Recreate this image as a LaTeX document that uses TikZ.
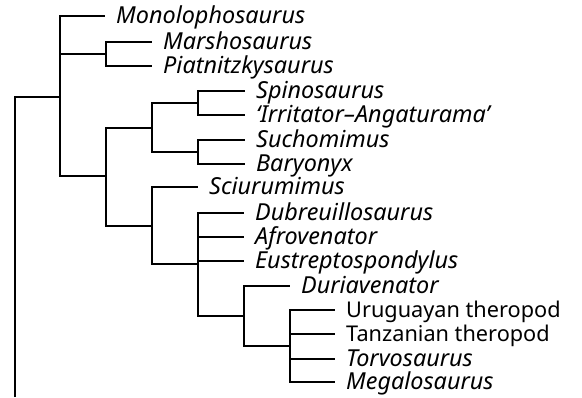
\documentclass[tikz,border=0pt]{standalone}
\usepackage{fontspec}
\setmainfont{Noto Sans}
\begin{document}
\begin{tikzpicture}[x=1pt,y=-1pt,line width=2.4pt,
  leaf/.style={anchor=west,inner xsep=10pt,inner ysep=0pt,text height=15pt,text depth=0pt,font=\fontsize{23.4}{27}\selectfont\itshape},
  leafup/.style={leaf,font=\fontsize{21.7}{26}\selectfont\upshape}]
\useasboundingbox (0,0) rectangle (582,397);
% leaves
\node[leaf] (mono) at (105,16) {Monolophosaurus};
\node[leaf] (mars) at (152,42) {Marshosaurus};
\node[leaf] (piat) at (152,66) {Piatnitzkysaurus};
\node[leaf] (spin) at (245,91) {Spinosaurus};
\node[leaf] (irri) at (245,115) {‘Irritator–Angaturama’};
\node[leaf] (such) at (245,140) {Suchomimus};
\node[leaf] (bary) at (245,164) {Baryonyx};
\node[leaf] (sciu) at (198,187) {Sciurumimus};
\node[leaf] (dubr) at (244,213) {Dubreuillosaurus};
\node[leaf] (afro) at (244,237) {Afrovenator};
\node[leaf] (eust) at (244,261) {Eustreptospondylus};
\node[leaf] (duri) at (290,286) {Duriavenator};
\node[leafup] (urug) at (335,310) {Uruguayan theropod};
\node[leafup] (tanz) at (335,334) {Tanzanian theropod};
\node[leaf] (torv) at (335,359) {Torvosaurus};
\node[leaf] (mega) at (335,382) {Megalosaurus};
% internal branch points
\coordinate (root) at (15,97);
\coordinate (rootend) at (15,397);
\coordinate (n1) at (60,97);
\coordinate (n2) at (106,54);
\coordinate (n3) at (106,176);
\coordinate (n4) at (152,128);
\coordinate (n5) at (198,103);
\coordinate (n6) at (198,152);
\coordinate (n7) at (152,226);
\coordinate (n8) at (198,264);
\coordinate (n9) at (244,316);
\coordinate (n10) at (290,346);
% root
\draw (rootend) -- (root) -- (n1);
% clade n1
\draw (n1) |- (mono.west);
\draw (n1) |- (n2);
\draw (n1) |- (n3);
\draw (n2) |- (mars.west);
\draw (n2) |- (piat.west);
\draw (n3) |- (n4);
\draw (n3) |- (n7);
\draw (n4) |- (n5);
\draw (n4) |- (n6);
\draw (n5) |- (spin.west);
\draw (n5) |- (irri.west);
\draw (n6) |- (such.west);
\draw (n6) |- (bary.west);
\draw (n7) |- (sciu.west);
\draw (n7) |- (n8);
\draw (n8) |- (dubr.west);
\draw (n8) |- (afro.west);
\draw (n8) |- (eust.west);
\draw (n8) |- (n9);
\draw (n9) |- (duri.west);
\draw (n9) |- (n10);
\draw (n10) |- (urug.west);
\draw (n10) |- (tanz.west);
\draw (n10) |- (torv.west);
\draw (n10) |- (mega.west);
\end{tikzpicture}
\end{document}
